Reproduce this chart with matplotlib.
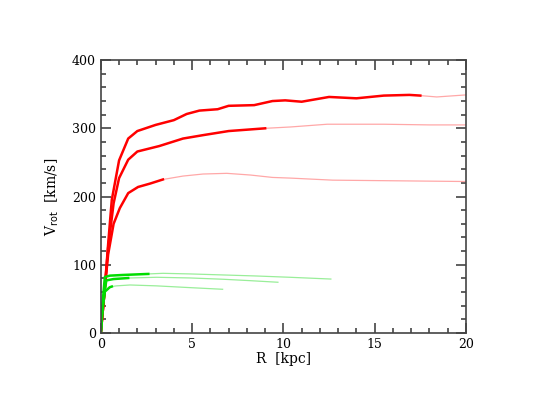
import matplotlib
matplotlib.use('Agg')
import matplotlib.pyplot as plt
from matplotlib.ticker import MultipleLocator

# rotation curves: thick = measured part, thin = extrapolated part
# red (massive galaxies)
r_red1 = [0, 0.2, 0.4, 0.6, 1.0, 1.5, 2.0, 3.0, 4.0, 4.7, 5.4, 6.4, 7.0, 8.4, 9.4, 10.1, 11.0, 12.5, 14.0, 15.5, 16.9, 17.5]
v_red1 = [0, 60, 130, 195, 253, 285, 296, 305, 312, 321, 326, 328, 333, 334, 340, 341, 339, 346, 344, 348, 349, 348]
r_red1_ext = [17.5, 18.4, 20.0]
v_red1_ext = [348, 346, 349]

r_red2 = [0, 0.2, 0.4, 0.7, 1.0, 1.5, 2.0, 3.2, 4.5, 5.6, 7.0, 8.0, 9.0]
v_red2 = [0, 60, 125, 190, 227, 254, 266, 274, 285, 290, 296, 298, 300]
r_red2_ext = [9.0, 10.4, 12.4, 15.5, 18.0, 20.0]
v_red2_ext = [300, 302, 306, 306, 305, 305]

r_red3 = [0, 0.2, 0.4, 0.7, 1.04, 1.5, 2.04, 2.7, 3.4]
v_red3 = [0, 60, 115, 160, 183, 205, 214, 219, 225]
r_red3_ext = [3.4, 4.5, 5.6, 6.9, 8.2, 9.4, 10.4, 12.7, 16.4, 20.0]
v_red3_ext = [225, 230, 233, 234, 231.5, 228, 227, 224, 223, 222]

# green (dwarf galaxies)
r_grn1 = [0, 0.1, 0.22, 0.5, 1.22, 2.6]
v_grn1 = [0, 45, 82, 84, 85, 86.5]
r_grn1_ext = [2.6, 3.4, 4.9, 6.7, 8.5, 10.35, 12.6]
v_grn1_ext = [86.5, 87.4, 86.5, 85, 83.5, 81.6, 79]

r_grn2 = [0, 0.1, 0.3, 0.7, 1.5]
v_grn2 = [0, 40, 77, 79, 80.5]
r_grn2_ext = [1.5, 3.05, 4.9, 6.7, 8.2, 9.7]
v_grn2_ext = [80.5, 81.6, 80.6, 78.7, 76.6, 74.3]

r_grn3 = [0, 0.1, 0.22, 0.49, 0.6]
v_grn3 = [0, 35, 60.5, 67, 68]
r_grn3_ext = [0.6, 0.86, 1.6, 3.05, 4.9, 6.67]
v_grn3_ext = [68, 69, 70.3, 69, 66.4, 64]

plt.rcParams['font.family'] = 'DejaVu Serif'

fig = plt.figure(figsize=(5.45, 4.09), dpi=100)
ax = fig.add_axes([0.185, 0.186, 0.67, 0.667])

red, red_lt = '#ff0000', '#ffa8a8'
grn, grn_lt = '#00dd00', '#99ee99'

for r, v in [(r_red1_ext, v_red1_ext), (r_red2_ext, v_red2_ext), (r_red3_ext, v_red3_ext)]:
    ax.plot(r, v, color=red_lt, lw=0.9)
for r, v in [(r_grn1_ext, v_grn1_ext), (r_grn2_ext, v_grn2_ext), (r_grn3_ext, v_grn3_ext)]:
    ax.plot(r, v, color=grn_lt, lw=0.9)
for r, v in [(r_red1, v_red1), (r_red2, v_red2), (r_red3, v_red3)]:
    ax.plot(r, v, color=red, lw=1.8)
for r, v in [(r_grn1, v_grn1), (r_grn2, v_grn2), (r_grn3, v_grn3)]:
    ax.plot(r, v, color=grn, lw=1.8)

ax.set_xlim(0, 20)
ax.set_ylim(0, 400)
ax.xaxis.set_major_locator(MultipleLocator(5))
ax.xaxis.set_minor_locator(MultipleLocator(1))
ax.yaxis.set_major_locator(MultipleLocator(100))
ax.yaxis.set_minor_locator(MultipleLocator(20))
ax.tick_params(which='both', direction='in', top=True, right=True, labelsize=9, width=1.2, color='#444444')
ax.tick_params(which='major', length=7)
ax.tick_params(which='minor', length=3.5)
for s in ax.spines.values():
    s.set_linewidth(1.2)
    s.set_color('#444444')

ax.set_xlabel('R  [kpc]', fontsize=10, labelpad=1)
ax.set_ylabel(r'V$_{\rm rot}$  [km/s]', fontsize=10, labelpad=8)

fig.savefig('out.png', dpi=100)
